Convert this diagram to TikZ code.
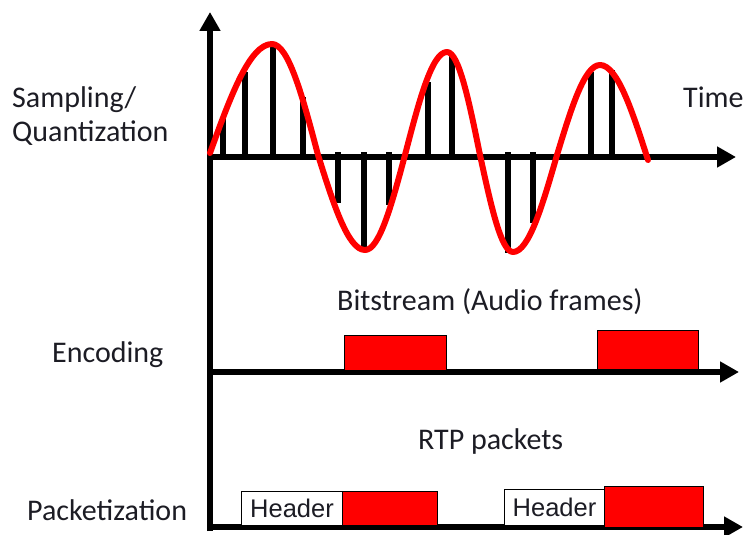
\documentclass[tikz,border=0pt]{standalone}
\usepackage{fontspec}
\setmainfont{Carlito}
\newfontfamily\arialfont{Liberation Sans}
\usetikzlibrary{arrows.meta}
\definecolor{wavered}{RGB}{255,0,0}
\definecolor{txt}{RGB}{28,28,36}
\begin{document}
\begin{tikzpicture}[x=1pt,y=-1pt,
  lbl/.style={inner sep=0pt, anchor=base west, text=txt, font=\fontsize{30}{36}\selectfont},
  axisline/.style={line width=6pt, -{Triangle[length=19pt,width=20pt]}},
  stem/.style={line width=6pt, black},
  wave/.style={line width=6pt, wavered, line cap=round, line join=round},
  redbox/.style={draw=black, line width=1pt, fill=wavered, anchor=south west, inner sep=0pt},
  hdrbox/.style={draw=black, line width=1pt, fill=white, anchor=south west, inner sep=0pt,
    font=\arialfont\fontsize{25.5}{30}\selectfont, text=txt}
]
\useasboundingbox (0,0) rectangle (748,535);

% coordinates for axes
\coordinate (vbot) at (210,531);
\coordinate (vtop) at (210,12);
\coordinate (t0) at (207,157);
\coordinate (t1) at (736,157);
\coordinate (e0) at (207,372);
\coordinate (e1) at (739,372);
\coordinate (p0) at (207,527);
\coordinate (p1) at (743,527);

% samples (stems)
\foreach \sx/\sy in {223/118, 245/72, 273/45, 303/97, 428/82, 452/55, 591/72, 612/70}
  \draw[stem] (\sx,157) -- (\sx,\sy);
\foreach \sx/\sy in {338/203, 364/250, 389/205, 508/253, 533/223}
  \draw[stem] (\sx,152) -- (\sx,\sy);

% axes
\draw[axisline] (vbot) -- (vtop);
\draw[axisline] (t0) -- (t1);
\draw[axisline] (e0) -- (e1);
\draw[axisline] (p0) -- (p1);

% waveform
\draw[wave] (210,153) sin (272,44) cos (318,155) sin (365,250) cos (405,155)
  sin (447,52) cos (480,155) sin (513,252) cos (557,155) sin (600,65) cos (648,160);

% encoded frames
\node[redbox, minimum width=102pt, minimum height=35pt] (enc1) at (344,371) {};
\node[redbox, minimum width=101pt, minimum height=39pt] (enc2) at (597,370) {};

% packets
\node[hdrbox, minimum width=101pt, minimum height=34pt] (hdr1) at (241,526) {Header};
\node[redbox, minimum width=95pt, minimum height=34pt] (pay1) at (342,526) {};
\node[hdrbox, minimum width=100pt, minimum height=36pt] (hdr2) at (504,526) {Header};
\node[redbox, minimum width=99pt, minimum height=41pt] (pay2) at (604,528) {};

% labels
\node[lbl] (samp) at (12,107) {Sampling/};
\node[lbl] (quant) at (12,142) {Quantization};
\node[lbl] (time) at (683,108) {Time};
\node[lbl] (encl) at (52,362) {Encoding};
\node[lbl] (pack) at (27,520) {Packetization};
\node[lbl] (bits) at (337,310) {Bitstream (Audio frames)};
\node[lbl] (rtp) at (418,449) {RTP packets};
\end{tikzpicture}
\end{document}
